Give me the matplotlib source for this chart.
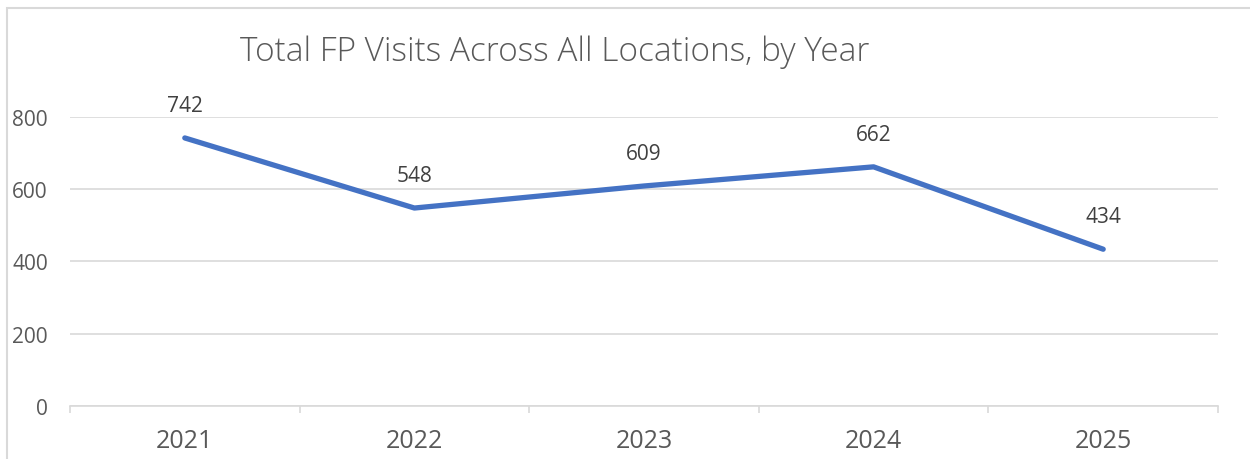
import matplotlib.pyplot as plt
from matplotlib.patches import Rectangle
from matplotlib.ticker import FixedLocator
import numpy as np

years = ['2021', '2022', '2023', '2024', '2025']
visits = [742, 548, 609, 662, 434]

plt.rcParams['font.family'] = ['Open Sans', 'DejaVu Sans']

fig = plt.figure(figsize=(12.5, 4.6), dpi=100)
ax = fig.add_axes([0.056, 0.1152, 0.9184, 0.6283])

x = np.arange(len(years))
ax.plot(x, visits, color='#4472C4', lw=3.8, solid_capstyle='round', solid_joinstyle='round')
for xi, v in zip(x, visits):
    ax.annotate(str(v), (xi, v), xytext=(0, 16), textcoords='offset points',
                ha='center', va='bottom', fontsize=15, color='#404040')

ax.set_xlim(-0.5, len(years) - 0.5)
ax.set_ylim(0, 800)
ax.set_yticks([0, 200, 400, 600, 800])
ax.set_xticks(x)
ax.set_xticklabels(years)
ax.xaxis.set_minor_locator(FixedLocator(np.arange(-0.5, len(years), 1)))
ax.tick_params(axis='x', which='major', length=0, pad=16, labelsize=18, labelcolor='#595959')
ax.tick_params(axis='x', which='minor', length=5, color='#d9d9d9', width=1.2)
ax.tick_params(axis='y', length=0, pad=16, labelsize=15, labelcolor='#595959')
ax.grid(axis='y', color='#d9d9d9', lw=1.2)
ax.set_axisbelow(True)
for s in ['top', 'right', 'left']:
    ax.spines[s].set_visible(False)
ax.spines['bottom'].set_color('#d9d9d9')
ax.spines['bottom'].set_linewidth(1.2)

fig.text(0.444, 0.886, 'Total FP Visits Across All Locations, by Year',
         ha='center', va='center', fontsize=24, color='#595959', fontweight='light')

fig.patches.append(Rectangle((7 / 1250, -0.2), 1.5, 0.2 + (460 - 9) / 460,
                             transform=fig.transFigure, fill=False,
                             edgecolor='#d9d9d9', lw=1.5))

fig.savefig('out.png', dpi=100)
